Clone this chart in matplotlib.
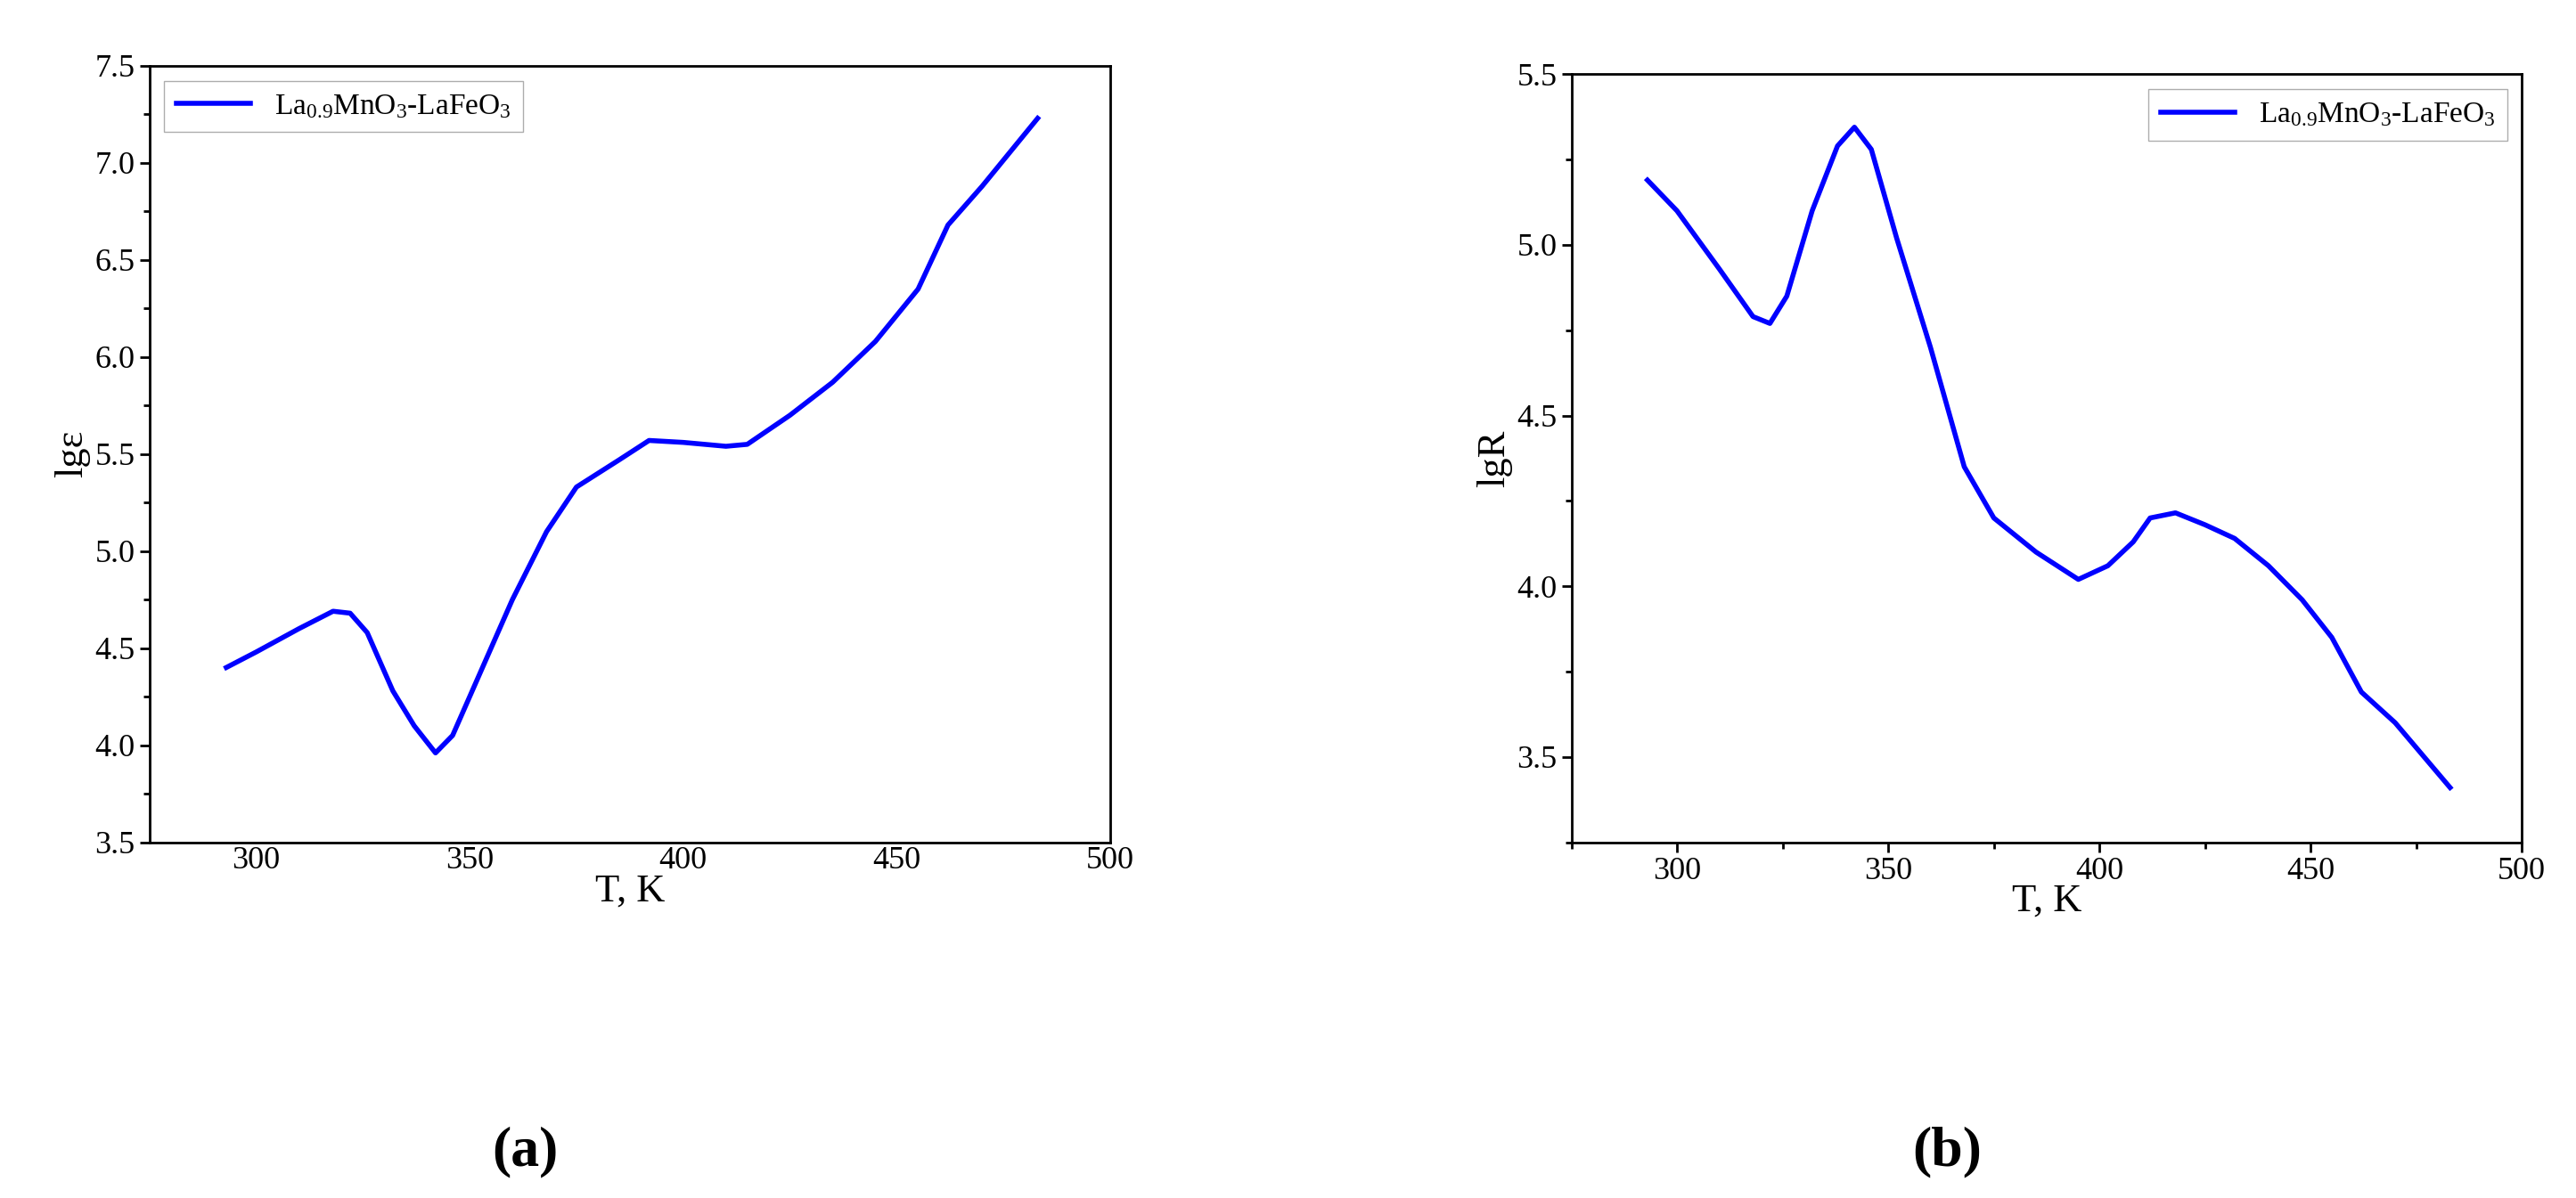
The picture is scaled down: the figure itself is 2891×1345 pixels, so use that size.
import matplotlib
matplotlib.use("Agg")
import matplotlib.pyplot as plt
from matplotlib.ticker import MultipleLocator

plt.rcParams['font.family'] = ['Liberation Serif', 'DejaVu Serif']
plt.rcParams['mathtext.default'] = 'regular'

T_a = [293, 300, 310, 318, 322, 326, 332, 337, 342, 346, 352, 360, 368, 375, 385, 392, 400, 410, 415, 425, 435, 445, 455, 462, 470, 483]
lg_eps = [4.40, 4.48, 4.60, 4.69, 4.68, 4.58, 4.28, 4.10, 3.96, 4.05, 4.35, 4.75, 5.10, 5.33, 5.47, 5.57, 5.56, 5.54, 5.55, 5.70, 5.87, 6.08, 6.35, 6.68, 6.88, 7.23]
T_b = [293, 300, 310, 318, 322, 326, 332, 338, 342, 346, 352, 360, 368, 375, 385, 395, 402, 408, 412, 418, 425, 432, 440, 448, 455, 462, 470, 483]
lg_R = [5.19, 5.10, 4.93, 4.79, 4.77, 4.85, 5.10, 5.29, 5.345, 5.28, 5.02, 4.70, 4.35, 4.20, 4.10, 4.02, 4.06, 4.13, 4.20, 4.215, 4.18, 4.14, 4.06, 3.96, 3.85, 3.69, 3.60, 3.41]
label = 'La$_{0.9}$MnO$_3$-LaFeO$_3$'

fig = plt.figure(figsize=(28.91, 13.45), dpi=100)
ax1 = fig.add_axes([0.058, 0.297, 0.373, 0.648])
ax2 = fig.add_axes([0.610, 0.297, 0.369, 0.641])

for ax in (ax1, ax2):
    for s in ax.spines.values():
        s.set_linewidth(2)
    ax.tick_params(direction='out', labelsize=26, width=2, length=8)
    ax.tick_params(which='minor', direction='out', width=2, length=5)
    ax.set_xlim(275, 500)
    ax.xaxis.set_major_locator(MultipleLocator(50))
    ax.set_xlabel('T, K', fontsize=32, labelpad=-2)

ax1.plot(T_a, lg_eps, color='#0000ff', lw=4, label=label)
ax1.set_ylim(3.5, 7.5)
ax1.yaxis.set_major_locator(MultipleLocator(0.5))
ax1.yaxis.set_minor_locator(MultipleLocator(0.25))
ax1.tick_params(axis='x', length=0)
ax1.set_ylabel('lgε', fontsize=32)
leg1 = ax1.legend(loc='upper left', fontsize=24, fancybox=False, edgecolor='#999999', handlelength=2.5)

ax2.plot(T_b, lg_R, color='#0000ff', lw=4, label=label)
ax2.set_ylim(3.25, 5.5)
ax2.yaxis.set_major_locator(MultipleLocator(0.5))
ax2.yaxis.set_minor_locator(MultipleLocator(0.25))
ax2.xaxis.set_minor_locator(MultipleLocator(25))
ax2.set_ylabel('lgR', fontsize=32)
ax2.legend(loc='upper right', fontsize=24, fancybox=False, edgecolor='#999999', handlelength=2.5)

fig.text(0.204, 0.038, '(a)', fontsize=46, fontweight='bold', ha='center', va='center')
fig.text(0.756, 0.038, '(b)', fontsize=46, fontweight='bold', ha='center', va='center')

fig.savefig('out.png', dpi=100)
